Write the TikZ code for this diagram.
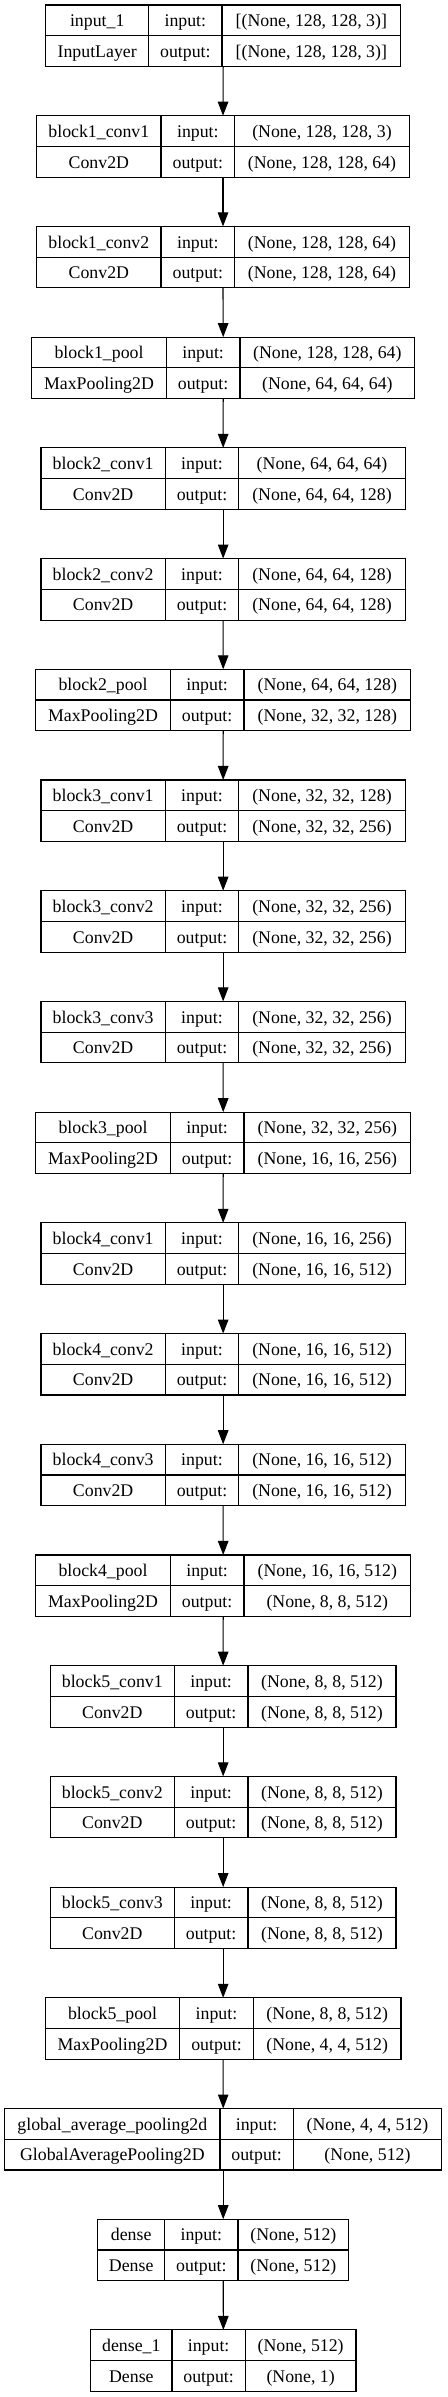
\documentclass[tikz,border=0pt]{standalone}
\usepackage{fontspec}
\setmainfont{Liberation Serif}
\usetikzlibrary{arrows.meta}
\tikzset{
  lbox/.style={draw=black, line width=1.1pt, minimum height=61.5pt, inner sep=0pt, outer sep=0pt, anchor=north west},
  ltext/.style={font=\fontsize{17.8}{20}\selectfont, inner sep=0pt, anchor=base},
  sepline/.style={draw=black, line width=1.1pt},
  flow/.style={draw=black, line width=1.1pt, -{Triangle[length=14pt,width=10.5pt]}}
}
\newcommand\klayer[9]{%
  \pgfmathsetmacro\kt{5+110.71*#1}%
  \node[lbox, minimum width={#5-#2}] (L#1) at (#2,-\kt) {};
  \draw[sepline] (#2,-\kt-30.75) -- (#5,-\kt-30.75);
  \draw[sepline] (#3,-\kt) -- (#3,-\kt-61.5);
  \draw[sepline] (#4,-\kt) -- (#4,-\kt-61.5);
  \node[ltext] (A#1) at ({(#2+#3)/2},-\kt-21.7) {#6};
  \node[ltext] (B#1) at ({(#2+#3)/2},-\kt-52.4) {#7};
  \node[ltext] (C#1) at ({(#3+#4)/2},-\kt-21.7) {input:};
  \node[ltext] (D#1) at ({(#3+#4)/2},-\kt-52.4) {output:};
  \node[ltext] (E#1) at ({(#4+#5)/2},-\kt-21.7) {#8};
  \node[ltext] (F#1) at ({(#4+#5)/2},-\kt-52.4) {#9};
}
\begin{document}
\begin{tikzpicture}[x=1pt,y=1pt]
\useasboundingbox (0,0) rectangle (447,-2397);
\fill[white] (0,0) rectangle (447,-2397);
\klayer{0}{45.7}{148.7}{222}{400.7}{input\_1}{InputLayer}{[(None, 128, 128, 3)]}{[(None, 128, 128, 3)]}
\klayer{1}{36.7}{161}{234.7}{409.3}{block1\_conv1}{Conv2D}{(None, 128, 128, 3)}{(None, 128, 128, 64)}
\klayer{2}{36.7}{161}{234.7}{409.3}{block1\_conv2}{Conv2D}{(None, 128, 128, 64)}{(None, 128, 128, 64)}
\klayer{3}{31.7}{166.3}{240}{414.7}{block1\_pool}{MaxPooling2D}{(None, 128, 128, 64)}{(None, 64, 64, 64)}
\klayer{4}{41}{165.3}{238.7}{405.3}{block2\_conv1}{Conv2D}{(None, 64, 64, 64)}{(None, 64, 64, 128)}
\klayer{5}{41}{165.3}{238.7}{405.3}{block2\_conv2}{Conv2D}{(None, 64, 64, 128)}{(None, 64, 64, 128)}
\klayer{6}{35.7}{170.3}{244}{410.7}{block2\_pool}{MaxPooling2D}{(None, 64, 64, 128)}{(None, 32, 32, 128)}
\klayer{7}{41}{165.3}{238.7}{405.3}{block3\_conv1}{Conv2D}{(None, 32, 32, 128)}{(None, 32, 32, 256)}
\klayer{8}{41}{165.3}{238.7}{405.3}{block3\_conv2}{Conv2D}{(None, 32, 32, 256)}{(None, 32, 32, 256)}
\klayer{9}{41}{165.3}{238.7}{405.3}{block3\_conv3}{Conv2D}{(None, 32, 32, 256)}{(None, 32, 32, 256)}
\klayer{10}{35.7}{170.3}{244}{410.7}{block3\_pool}{MaxPooling2D}{(None, 32, 32, 256)}{(None, 16, 16, 256)}
\klayer{11}{41}{165.3}{238.7}{405.3}{block4\_conv1}{Conv2D}{(None, 16, 16, 256)}{(None, 16, 16, 512)}
\klayer{12}{41}{165.3}{238.7}{405.3}{block4\_conv2}{Conv2D}{(None, 16, 16, 512)}{(None, 16, 16, 512)}
\klayer{13}{41}{165.3}{238.7}{405.3}{block4\_conv3}{Conv2D}{(None, 16, 16, 512)}{(None, 16, 16, 512)}
\klayer{14}{35.7}{170.3}{244}{410.7}{block4\_pool}{MaxPooling2D}{(None, 16, 16, 512)}{(None, 8, 8, 512)}
\klayer{15}{50.3}{174.3}{248}{396}{block5\_conv1}{Conv2D}{(None, 8, 8, 512)}{(None, 8, 8, 512)}
\klayer{16}{50.3}{174.3}{248}{396}{block5\_conv2}{Conv2D}{(None, 8, 8, 512)}{(None, 8, 8, 512)}
\klayer{17}{50.3}{174.3}{248}{396}{block5\_conv3}{Conv2D}{(None, 8, 8, 512)}{(None, 8, 8, 512)}
\klayer{18}{45.3}{179.7}{253.3}{401}{block5\_pool}{MaxPooling2D}{(None, 8, 8, 512)}{(None, 4, 4, 512)}
\klayer{19}{4.7}{220}{293.3}{441.7}{global\_average\_pooling2d}{GlobalAveragePooling2D}{(None, 4, 4, 512)}{(None, 512)}
\klayer{20}{97.7}{164.7}{238}{348.7}{dense}{Dense}{(None, 512)}{(None, 512)}
\klayer{21}{90.7}{172}{245.3}{356}{dense\_1}{Dense}{(None, 512)}{(None, 1)}
\foreach \i [evaluate=\i as \j using int(\i+1)] in {0,...,20} {
  \draw[flow] (L\i.south) -- (L\j.north);
}
\end{tikzpicture}
\end{document}
